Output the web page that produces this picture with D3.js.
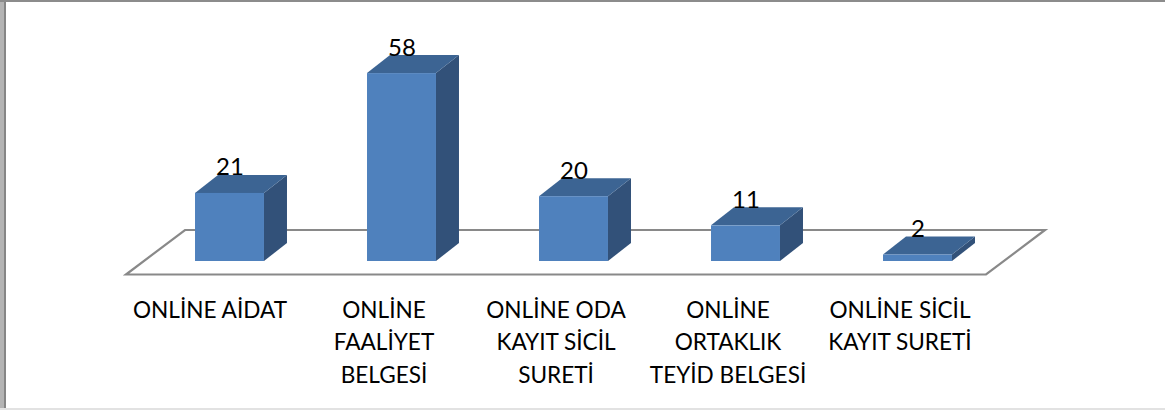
<!DOCTYPE html>
<html>
<head>
<meta charset="utf-8">
<script src="https://cdn.jsdelivr.net/npm/d3@7"></script>
<style>
  html, body { margin: 0; padding: 0; background: #fff; overflow: hidden; }
  text { font-family: Lato, "Open Sans", sans-serif; fill: #000; }
</style>
</head>
<body>
<div id="root"></div>
<script>
const categories = [
  "ONLİNE AİDAT",
  "ONLİNE FAALİYET BELGESİ",
  "ONLİNE ODA KAYIT SİCİL SURETİ",
  "ONLİNE ORTAKLIK TEYİD BELGESİ",
  "ONLİNE SİCİL KAYIT SURETİ"
];
const categoryLines = [
  ["ONLİNE AİDAT"],
  ["ONLİNE", "FAALİYET", "BELGESİ"],
  ["ONLİNE ODA", "KAYIT SİCİL", "SURETİ"],
  ["ONLİNE", "ORTAKLIK", "TEYİD BELGESİ"],
  ["ONLİNE SİCİL", "KAYIT SURETİ"]
];
const values = [21, 58, 20, 11, 2];

const width = 1165;
const height = 410;

const svg = d3.select("#root")
  .append("svg")
  .attr("width", width)
  .attr("height", height)
  .style("display", "block");

// Frame of the pasted picture
svg.append("rect").attr("x", 0).attr("y", 0).attr("width", 4).attr("height", height).attr("fill", "#b4b4b4");
svg.append("rect").attr("x", 4).attr("y", 0).attr("width", 2).attr("height", height).attr("fill", "#868686");
svg.append("rect").attr("x", 0).attr("y", 0).attr("width", width).attr("height", 2).attr("fill", "#8c8c8c");
svg.append("rect").attr("x", 0).attr("y", 408).attr("width", width).attr("height", 2).attr("fill", "#e2e2e2");

const x = d3.scaleBand()
  .domain(categories)
  .range([126, 986])
  .paddingInner(0.599)
  .paddingOuter(0.2995);

const y = d3.scaleLinear().domain([0, 60]).range([261, 66.6]);

// 3d offsets
const floorFrontY = 274.5;
const floorDx = 59;
const floorDy = -44.5;
const barShift = 17.5;
const depthX = 23;
const depthY = -18;

// Floor
const [fl, fr] = x.range();
svg.append("path")
  .attr("d", `M${fl},${floorFrontY}L${fl + floorDx},${floorFrontY + floorDy}L${fr + floorDx},${floorFrontY + floorDy}L${fr},${floorFrontY}Z`)
  .attr("fill", "none")
  .attr("stroke", "#898989")
  .attr("stroke-width", 2.2);

// Bars
const bars = svg.selectAll(".bar")
  .data(values)
  .join("g")
  .attr("class", "bar");

const left = (d, i) => x(categories[i]) + barShift;
const right = (d, i) => left(d, i) + x.bandwidth();

bars.append("polygon")
  .attr("points", (d, i) => [
    [right(d, i), y(d)],
    [right(d, i) + depthX, y(d) + depthY],
    [right(d, i) + depthX, y(0) + depthY],
    [right(d, i), y(0)]
  ].join(" "))
  .attr("fill", "#325179");

bars.append("polygon")
  .attr("points", (d, i) => [
    [left(d, i), y(d)],
    [left(d, i) + depthX, y(d) + depthY],
    [right(d, i) + depthX, y(d) + depthY],
    [right(d, i), y(d)]
  ].join(" "))
  .attr("fill", "#3c6493");

bars.append("rect")
  .attr("x", left)
  .attr("y", (d) => y(d))
  .attr("width", x.bandwidth())
  .attr("height", (d) => y(0) - y(d))
  .attr("fill", "#4f81bd");

// Value labels
svg.selectAll(".value")
  .data(values)
  .join("text")
  .attr("class", "value")
  .attr("x", (d, i) => left(d, i) + x.bandwidth() / 2 + 0.5)
  .attr("y", (d) => y(d) - 17.5)
  .attr("text-anchor", "middle")
  .attr("font-size", 24)
  .text((d) => d);

// Category axis
const xAxis = d3.axisBottom(x).tickSize(0).tickPadding(0);
const axisG = svg.append("g")
  .attr("transform", `translate(0,${floorFrontY})`)
  .call(xAxis);
axisG.select(".domain").remove();
axisG.selectAll(".tick text")
  .attr("y", 0)
  .attr("dy", null)
  .attr("font-size", 22.6)
  .attr("font-family", null)
  .each(function (d, i) {
    const t = d3.select(this).text(null);
    categoryLines[i].forEach((line, j) => {
      t.append("tspan")
        .attr("x", i === 0 ? -2 : 0)
        .attr("y", 43 + j * 32.5)
        .text(line);
    });
  });
</script>
</body>
</html>
